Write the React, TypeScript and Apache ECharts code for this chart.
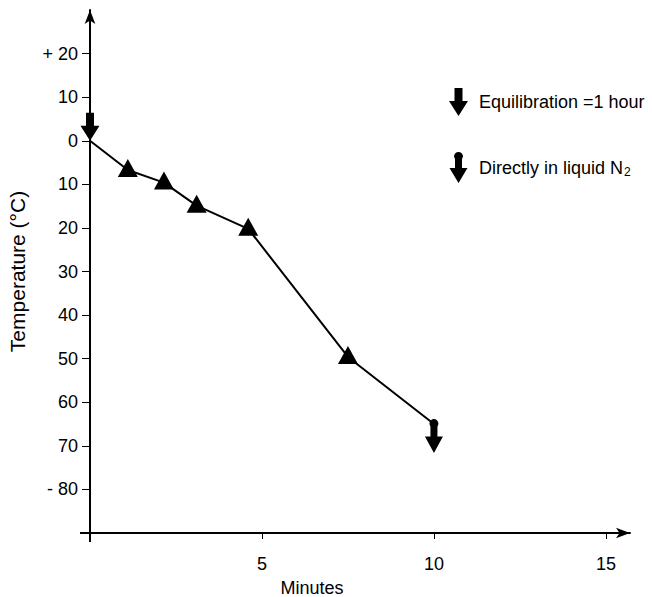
import React, { useEffect, useRef } from "react";
import * as echarts from "echarts";

const minutes = [0, 1.1, 2.15, 3.1, 4.6, 7.5, 10];
const temps = [0, -6.7, -9.6, -14.9, -20.2, -49.6, -65];
const triangleIdx = [1, 2, 3, 4, 5];
const equilibrationPoint = [0, 0];
const directPoint = [10, -65];
const yTicks = [20, 10, 0, -10, -20, -30, -40, -50, -60, -70, -80];
const xTicks = [5, 10, 15];

const ARROW = "path://M5.5,0 L13.5,0 L13.5,13 L19,13 L9.5,28 L0,13 L5.5,13 Z";
const DOT_ARROW =
  "path://M4.5,4.5 A4.5,4.5 0 1 1 13.5,4.5 L12.5,7 L12.5,16 L18,16 L9,31 L0,16 L5.5,16 L5.5,7 Z";

const FONT = "'Liberation Sans', Arial, Helvetica, sans-serif";

export default function App() {
  const ref = useRef<HTMLDivElement>(null);
  useEffect(() => {
    document.body.style.margin = "0";
    if (!ref.current) return;
    const chart = echarts.init(ref.current, null, { renderer: "svg" });
    const line = minutes.map((m, i) => [m, temps[i]]);
    const tri = triangleIdx.map((i) => [minutes[i], temps[i]]);
    chart.setOption({
      animation: false,
      backgroundColor: "#fff",
      textStyle: { fontFamily: FONT, color: "#000" },
      grid: { left: 90, right: 22, top: 10, bottom: 64, containLabel: false, outerBoundsMode: "none" },
      legend: {
        orient: "vertical",
        left: 444,
        top: 83,
        itemWidth: 19,
        itemHeight: 31,
        itemGap: 36,
        selectedMode: false,
        textStyle: {
          fontFamily: FONT,
          fontSize: 18,
          color: "#000",
          padding: [0, 0, 0, 6],
          rich: {
            a: { fontFamily: FONT, fontSize: 18, color: "#000" },
            s: { fontFamily: FONT, fontSize: 12, color: "#000", verticalAlign: "bottom", padding: [9, 0, 0, 1] },
          },
        },
        formatter: (name: string) =>
          name.endsWith("N2") ? "{a|" + name.slice(0, -1) + "}{s|2}" : name,
        data: [
          { name: "Equilibration =1 hour", icon: ARROW },
          { name: "Directly in liquid N2", icon: DOT_ARROW },
        ],
      },
      xAxis: {
        type: "value",
        min: 0,
        max: 15.7,
        splitLine: { show: false },
        axisLine: {
          show: true,
          onZero: false,
          symbol: ["none", "arrow"],
          symbolSize: [8, 14],
          lineStyle: { color: "#000", width: 2 },
        },
        axisTick: {
          show: true,
          length: 6,
          customValues: xTicks,
          lineStyle: { color: "#000", width: 1 },
        },
        axisLabel: {
          customValues: xTicks,
          margin: 22,
          fontSize: 18,
          color: "#000",
          fontFamily: FONT,
        },
      },
      yAxis: {
        type: "value",
        min: -90,
        max: 30,
        interval: 10,
        name: "Temperature (°C)",
        nameLocation: "middle",
        nameGap: 62,
        nameRotate: 90,
        nameTextStyle: { fontFamily: FONT, fontSize: 21, color: "#000" },
        splitLine: { show: false },
        axisLine: {
          show: true,
          onZero: false,
          symbol: ["none", "arrow"],
          symbolSize: [8, 14],
          lineStyle: { color: "#000", width: 2 },
        },
        axisTick: {
          show: true,
          length: 8,
          customValues: yTicks,
          lineStyle: { color: "#000", width: 1 },
        },
        axisLabel: {
          customValues: yTicks,
          margin: 12,
          fontSize: 18,
          color: "#000",
          fontFamily: FONT,
          formatter: (v: number) =>
            v === 20 ? "+ 20" : v === -80 ? "- 80" : String(Math.abs(v)),
        },
      },
      graphic: [
        { type: "line", shape: { x1: 80, y1: 533, x2: 91, y2: 533 }, style: { stroke: "#000", lineWidth: 2 } },
        { type: "line", shape: { x1: 90, y1: 533, x2: 90, y2: 542 }, style: { stroke: "#000", lineWidth: 2 } },
        {
          type: "text",
          x: 312,
          y: 588,
          style: {
            text: "Minutes",
            fontFamily: FONT,
            fontSize: 18,
            fill: "#000",
            align: "center",
            verticalAlign: "middle",
          },
        },
      ],
      series: [
        {
          type: "line",
          data: line,
          showSymbol: false,
          symbol: "none",
          lineStyle: { color: "#000", width: 2 },
          z: 2,
        },
        {
          type: "scatter",
          data: tri,
          symbol: "triangle",
          symbolSize: [20, 18],
          symbolOffset: [0, -2],
          itemStyle: { color: "#000", opacity: 1 },
          z: 3,
        },
        {
          name: "Equilibration =1 hour",
          type: "scatter",
          data: [equilibrationPoint],
          symbol: ARROW,
          symbolSize: [19, 28],
          symbolOffset: [0, -14],
          itemStyle: { color: "#000", opacity: 1 },
          z: 4,
        },
        {
          name: "Directly in liquid N2",
          type: "scatter",
          data: [directPoint],
          symbol: DOT_ARROW,
          symbolSize: [18, 34],
          symbolOffset: [0, 12],
          itemStyle: { color: "#000", opacity: 1 },
          z: 4,
        },
      ],
    });
    return () => chart.dispose();
  }, []);
  return <div ref={ref} style={{ width: 652, height: 597 }} />;
}
